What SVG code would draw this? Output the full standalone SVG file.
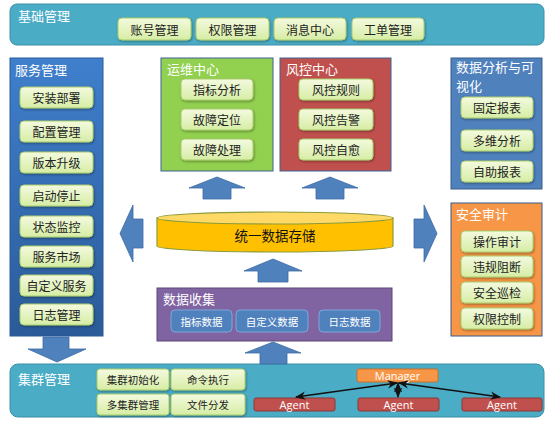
<svg xmlns="http://www.w3.org/2000/svg" width="554" height="426" viewBox="0 0 554 426">
<defs>
<linearGradient id="gBtn" x1="0" y1="0" x2="0" y2="1"><stop offset="0" stop-color="#f4fadf"/><stop offset="1" stop-color="#d6eda5"/></linearGradient>
<linearGradient id="gSvc" x1="0" y1="0" x2="0" y2="1"><stop offset="0" stop-color="#3f7fcc"/><stop offset="1" stop-color="#2b5b98"/></linearGradient>
<filter id="sh" x="-10%" y="-20%" width="130%" height="160%"><feDropShadow dx="0.8" dy="1.2" stdDeviation="0.8" flood-color="#000" flood-opacity="0.35"/></filter>
<marker id="ah" viewBox="0 0 10 10" refX="9" refY="5" markerWidth="7" markerHeight="7" orient="auto-start-reverse"><path d="M0,1 L10,5 L0,9 L3,5 Z" fill="#111"/></marker>
</defs>
<style>
text{font-family:"Noto Sans CJK SC","Liberation Sans",sans-serif;}
.btn{fill:url(#gBtn);stroke:#a9cd6a;stroke-width:1;filter:url(#sh);}
.bt{font-size:12px;fill:#222;text-anchor:middle;dominant-baseline:central;}
.ttl{font-size:13px;fill:#fff;}
.arr{fill:#4f81bd;stroke:#3d6ba3;stroke-width:0.8;}
.bbtn{fill:#4f81bd;stroke:#7fa6d8;stroke-width:1;}
.bbt{font-size:10.5px;fill:#fff;text-anchor:middle;dominant-baseline:central;}
.cbt{font-size:10.5px;fill:#222;text-anchor:middle;dominant-baseline:central;}
.agent{fill:#c0504d;stroke:#8c3836;stroke-width:1;}
.wt{font-size:11px;fill:#fff;text-anchor:middle;dominant-baseline:central;font-family:"Open Sans","Liberation Sans",sans-serif;}
.ln{stroke:#111;stroke-width:1.5;fill:none;marker-start:url(#ah);marker-end:url(#ah);}
</style>

<g id="base-mgmt">
<rect x="10" y="4" width="534" height="41" rx="7" fill="#4bacc6" stroke="#3a8ea6" stroke-width="1"/>
<text class="ttl" x="18" y="21">基础管理</text>
<rect class="btn" x="118" y="18" width="73" height="22" rx="4"/><text class="bt" x="154.5" y="29">账号管理</text>
<rect class="btn" x="196" y="18" width="73" height="22" rx="4"/><text class="bt" x="232.5" y="29">权限管理</text>
<rect class="btn" x="274" y="18" width="72" height="22" rx="4"/><text class="bt" x="310" y="29">消息中心</text>
<rect class="btn" x="352" y="18" width="72" height="22" rx="4"/><text class="bt" x="388" y="29">工单管理</text>
</g>

<g id="svc-mgmt">
<rect x="10" y="58" width="93" height="278" fill="url(#gSvc)" stroke="#2b5b98" stroke-width="1"/>
<text class="ttl" x="15" y="75">服务管理</text>
<rect class="btn" x="20" y="87" width="73" height="21" rx="4"/><text class="bt" x="56.5" y="97.5">安装部署</text>
<rect class="btn" x="20" y="121" width="73" height="21" rx="4"/><text class="bt" x="56.5" y="131.5">配置管理</text>
<rect class="btn" x="20" y="152" width="73" height="21" rx="4"/><text class="bt" x="56.5" y="162.5">版本升级</text>
<rect class="btn" x="20" y="185" width="73" height="21" rx="4"/><text class="bt" x="56.5" y="195.5">启动停止</text>
<rect class="btn" x="20" y="216" width="73" height="21" rx="4"/><text class="bt" x="56.5" y="226.5">状态监控</text>
<rect class="btn" x="20" y="246" width="73" height="21" rx="4"/><text class="bt" x="56.5" y="256.5">服务市场</text>
<rect class="btn" x="20" y="275" width="73" height="21" rx="4"/><text class="bt" x="56.5" y="285.5">自定义服务</text>
<rect class="btn" x="20" y="304" width="73" height="21" rx="4"/><text class="bt" x="56.5" y="314.5">日志管理</text>
</g>

<g id="ops-center">
<rect x="161" y="58" width="112" height="113" fill="#92d050" stroke="#3f6293" stroke-width="1"/>
<text class="ttl" x="167" y="74">运维中心</text>
<rect class="btn" x="181" y="79" width="72" height="21" rx="4"/><text class="bt" x="217" y="89.5">指标分析</text>
<rect class="btn" x="181" y="109" width="72" height="21" rx="4"/><text class="bt" x="217" y="119.5">故障定位</text>
<rect class="btn" x="181" y="139" width="72" height="21" rx="4"/><text class="bt" x="217" y="149.5">故障处理</text>
</g>

<g id="risk-center">
<rect x="280" y="58" width="111" height="113" fill="#c0504d" stroke="#3f6293" stroke-width="1"/>
<text class="ttl" x="286" y="74">风控中心</text>
<rect class="btn" x="299" y="79" width="74" height="21" rx="4"/><text class="bt" x="336" y="89.5">风控规则</text>
<rect class="btn" x="299" y="109" width="74" height="21" rx="4"/><text class="bt" x="336" y="119.5">风控告警</text>
<rect class="btn" x="299" y="139" width="74" height="21" rx="4"/><text class="bt" x="336" y="149.5">风控自愈</text>
</g>

<g id="data-analysis">
<rect x="451" y="58" width="91" height="131" fill="#4f81bd" stroke="#385d8a" stroke-width="1"/>
<text class="ttl" x="456" y="72">数据分析与可</text>
<text class="ttl" x="456" y="91">视化</text>
<rect class="btn" x="461" y="97" width="72" height="21" rx="4"/><text class="bt" x="497" y="107.5">固定报表</text>
<rect class="btn" x="461" y="130" width="72" height="21" rx="4"/><text class="bt" x="497" y="140.5">多维分析</text>
<rect class="btn" x="461" y="161" width="72" height="21" rx="4"/><text class="bt" x="497" y="171.5">自助报表</text>
</g>

<g id="security-audit">
<rect x="451" y="203" width="91" height="133" fill="#f79646" stroke="#385d8a" stroke-width="1"/>
<text class="ttl" x="456" y="219">安全审计</text>
<rect class="btn" x="461" y="231" width="72" height="21" rx="4"/><text class="bt" x="497" y="241.5">操作审计</text>
<rect class="btn" x="461" y="256" width="72" height="21" rx="4"/><text class="bt" x="497" y="266.5">违规阻断</text>
<rect class="btn" x="461" y="282" width="72" height="21" rx="4"/><text class="bt" x="497" y="292.5">安全巡检</text>
<rect class="btn" x="461" y="308" width="72" height="21" rx="4"/><text class="bt" x="497" y="318.5">权限控制</text>
</g>

<g id="storage">
<path d="M157,218 L157,246 A118,6 0 0 0 393,246 L393,218 Z" fill="#ffc000" stroke="#8a9b3c" stroke-width="1.2"/>
<ellipse cx="275" cy="218" rx="118" ry="6" fill="#ffd966" stroke="#8a9b3c" stroke-width="1.2"/>
<text x="275" y="235" font-size="13.5" fill="#111" text-anchor="middle" dominant-baseline="central">统一数据存储</text>
</g>

<g id="data-collect">
<rect x="157" y="288" width="235" height="53" fill="#8064a2" stroke="#5c4776" stroke-width="1"/>
<text class="ttl" x="163" y="304">数据收集</text>
<rect class="bbtn" x="171" y="310" width="61" height="22" rx="4"/><text class="bbt" x="201.5" y="321">指标数据</text>
<rect class="bbtn" x="236" y="310" width="72" height="22" rx="4"/><text class="bbt" x="272" y="321">自定义数据</text>
<rect class="bbtn" x="319" y="310" width="61" height="22" rx="4"/><text class="bbt" x="349.5" y="321">日志数据</text>
</g>

<g id="cluster-mgmt">
<rect x="10" y="364" width="534" height="53" rx="8" fill="#4bacc6" stroke="#3a8ea6" stroke-width="1"/>
<text class="ttl" x="18" y="384">集群管理</text>
<rect class="btn" x="97" y="369" width="72" height="21" rx="3"/><text class="cbt" x="133" y="379.5">集群初始化</text>
<rect class="btn" x="171" y="369" width="74" height="21" rx="3"/><text class="cbt" x="208" y="379.5">命令执行</text>
<rect class="btn" x="97" y="394" width="72" height="21" rx="3"/><text class="cbt" x="133" y="404.5">多集群管理</text>
<rect class="btn" x="171" y="394" width="74" height="21" rx="3"/><text class="cbt" x="208" y="404.5">文件分发</text>
<rect x="357" y="369" width="81" height="13" rx="2" fill="#f79646" stroke="#c96f2a" stroke-width="1"/><text class="wt" x="397.5" y="375.5">Manager</text>
<rect class="agent" x="254" y="398" width="81" height="13" rx="2"/><text class="wt" x="294.5" y="404.5">Agent</text>
<rect class="agent" x="358" y="398" width="81" height="13" rx="2"/><text class="wt" x="398.5" y="404.5">Agent</text>
<rect class="agent" x="462" y="398" width="80" height="13" rx="2"/><text class="wt" x="502" y="404.5">Agent</text>
</g>

<g id="connectors">
<polygon class="arr" points="217,177 245,188 231,188 231,199 203,199 203,188 189,188"/>
<polygon class="arr" points="330,177 358,188 344,188 344,199 316,199 316,188 302,188"/>
<polygon class="arr" points="120,233.5 133,205 133,219 143,219 143,248 133,248 133,262"/>
<polygon class="arr" points="437,233.5 424,205 424,219 414,219 414,248 424,248 424,262"/>
<polygon class="arr" points="273,259 302,271 288,271 288,282 258,282 258,271 244,271"/>
<polygon class="arr" points="57,362 86,349 69,349 69,337 43,337 43,349 28,349"/>
<polygon class="arr" points="273,342 301,353 287,353 287,364 260,364 260,353 245,353"/>
<line class="ln" x1="397" y1="383" x2="296" y2="397"/>
<line class="ln" x1="398" y1="383" x2="398" y2="397"/>
<line class="ln" x1="399" y1="383" x2="500" y2="397"/>
</g>
</svg>
